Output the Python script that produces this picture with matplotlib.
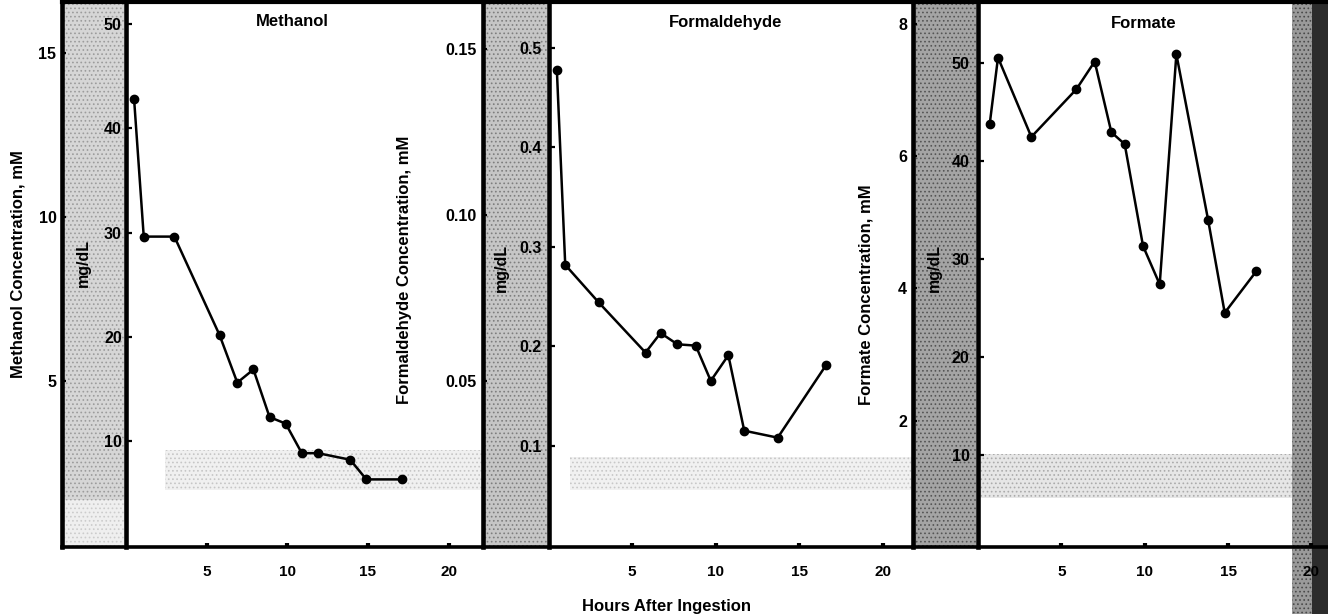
import matplotlib.pyplot as plt
from matplotlib.patches import Rectangle

plt.rcParams['font.family'] = ['Liberation Sans', 'DejaVu Sans']
plt.rcParams['font.weight'] = 'bold'
plt.rcParams['hatch.linewidth'] = 0.7

W, H = 1328, 614

# values (hours, mM)
methanol_hours = [0.5, 1.1, 3.0, 5.8, 6.9, 7.9, 8.9, 9.9, 10.9, 11.9, 13.9, 14.9, 17.1]
methanol_mM = [13.6, 9.4, 9.4, 6.4, 4.95, 5.35, 3.9, 3.7, 2.8, 2.8, 2.6, 2.0, 2.0]

formaldehyde_hours = [0.5, 1.0, 3.0, 5.8, 6.7, 7.7, 8.8, 9.7, 10.75, 11.7, 13.7, 16.6]
formaldehyde_mM = [0.1435, 0.0849, 0.0736, 0.0585, 0.0644, 0.0610, 0.0606, 0.0500,
                   0.0577, 0.0350, 0.0329, 0.0548]

formate_hours = [0.7, 1.2, 3.2, 5.9, 7.0, 8.0, 8.8, 9.9, 10.9, 11.9, 13.8, 14.8, 16.7]
formate_mM = [6.48, 7.49, 6.29, 7.01, 7.43, 6.36, 6.18, 4.64, 4.06, 7.54, 5.04, 3.63, 4.26]

hour_ticks = [5, 10, 15, 20]

methanol_mM_ticks = [5, 10, 15]
methanol_mM_labels = ['5', '10', '15']
methanol_mgdl_ticks = [10, 20, 30, 40, 50]
methanol_mgdl_labels = ['10', '20', '30', '40', '50']

formaldehyde_mM_ticks = [0.05, 0.10, 0.15]
formaldehyde_mM_labels = ['0.05', '0.10', '0.15']
formaldehyde_mgdl_ticks = [0.1, 0.2, 0.3, 0.4, 0.5]
formaldehyde_mgdl_labels = ['0.1', '0.2', '0.3', '0.4', '0.5']

formate_mM_ticks = [2, 4, 6, 8]
formate_mM_labels = ['2', '4', '6', '8']
formate_mgdl_ticks = [10, 20, 30, 40, 50]
formate_mgdl_labels = ['10', '20', '30', '40', '50']

titles = ['Methanol', 'Formaldehyde', 'Formate']
ylabels = ['Methanol Concentration, mM', 'Formaldehyde Concentration, mM',
           'Formate Concentration, mM']


def fx(x):
    return x / W


def fy(y):
    return 1 - y / H


fig = plt.figure(figsize=(W / 100, H / 100), dpi=100)

# scanned background: stippled strips, smudges and the dark right edge (pixel boxes)
def shade(x1, y1, x2, y2, face, dots=None):
    r = Rectangle((fx(x1), fy(y2)), fx(x2) - fx(x1), fy(y1) - fy(y2),
                  transform=fig.transFigure, facecolor=face, linewidth=0,
                  edgecolor=dots if dots else face, hatch='....' if dots else None,
                  zorder=-5)
    fig.add_artist(r)

shade(64, 3, 124, 500, '#d6d6d6', '#9c9c9c')
shade(64, 500, 124, 546, '#efefef', '#cccccc')
shade(485, 3, 547, 546, '#c6c6c6', '#7e7e7e')
shade(915, 3, 976, 546, '#a4a4a4', '#555555')
shade(165, 450, 482, 490, '#f0f0f0', '#c6c6c6')
shade(570, 457, 912, 490, '#f1f1f1', '#c8c8c8')
shade(980, 454, 1292, 498, '#e6e6e6', '#ababab')
shade(1292, 0, 1312, 614, '#9a9a9a', '#4a4a4a')
shade(1312, 0, 1328, 614, '#2c2c2c')

panels = [
    dict(left=62, right=482.5, x0=126, pph=16.13, ylim=(-0.06, 16.55), ylim2=(-0.14, 52.1),
         hours=methanol_hours, vals=methanol_mM,
         yt=methanol_mM_ticks, ytl=methanol_mM_labels,
         y2t=methanol_mgdl_ticks, y2tl=methanol_mgdl_labels, pad2=3),
    dict(left=482.5, right=912.5, x0=548.5, pph=16.73, ylim=(0.0, 0.164), ylim2=(-0.0014, 0.5457),
         hours=formaldehyde_hours, vals=formaldehyde_mM,
         yt=formaldehyde_mM_ticks, ytl=formaldehyde_mM_labels,
         y2t=formaldehyde_mgdl_ticks, y2tl=formaldehyde_mgdl_labels, pad2=5),
    dict(left=912.5, right=1328, x0=978, pph=16.67, ylim=(0.088, 8.33), ylim2=(0.57, 56.2),
         hours=formate_hours, vals=formate_mM,
         yt=formate_mM_ticks, ytl=formate_mM_labels,
         y2t=formate_mgdl_ticks, y2tl=formate_mgdl_labels, pad2=6),
]

top, bottom = 2, 547

for p in panels:
    ax = fig.add_axes([fx(p['left']), fy(bottom), fx(p['right']) - fx(p['left']),
                       fy(top) - fy(bottom)])
    ax.patch.set_visible(False)
    ax.set_xlim((p['left'] - p['x0']) / p['pph'], (p['right'] - p['x0']) / p['pph'])
    ax.set_ylim(p['ylim'])

    ax.plot(p['hours'], p['vals'], '-o', color='black', lw=1.8, ms=6, zorder=5,
            clip_on=False)

    ax.spines['right'].set_visible(False)
    ax.spines['left'].set_linewidth(3.3)
    ax.spines['top'].set_linewidth(3.0)
    ax.spines['bottom'].set_linewidth(2.6)

    ax.set_yticks(p['yt'])
    ax.set_yticklabels(p['ytl'])
    ax.tick_params(axis='y', direction='in', length=3, width=1.6, pad=4, labelsize=11.5)
    ax.set_xticks(hour_ticks)
    ax.set_xticklabels([str(h) for h in hour_ticks])
    ax.tick_params(axis='x', direction='in', length=3, width=3, pad=13, labelsize=11)

    # mg/dL scale on the inner axis at hour 0
    ax2 = ax.twinx()
    ax2.set_ylim(p['ylim2'])
    ax2.spines['left'].set_position(('data', 0))
    ax2.spines['left'].set_visible(True)
    ax2.spines['left'].set_linewidth(3.3)
    for s in ['right', 'top', 'bottom']:
        ax2.spines[s].set_visible(False)
    ax2.yaxis.tick_left()
    ax2.set_yticks(p['y2t'])
    ax2.set_yticklabels(p['y2tl'])
    ax2.tick_params(axis='y', direction='in', length=4, width=1.6, pad=p['pad2'],
                    labelsize=11.5)

# panel titles and axis labels
fig.text(fx(292), fy(21), titles[0], ha='center', va='center', fontsize=12, weight='bold')
fig.text(fx(726), fy(23), titles[1], ha='center', va='center', fontsize=12, weight='bold')
fig.text(fx(1144), fy(24), titles[2], ha='center', va='center', fontsize=12, weight='bold')

fig.text(fx(18), fy(264), ylabels[0], rotation=90, ha='center', va='center', fontsize=12)
fig.text(fx(405), fy(270), ylabels[1], rotation=90, ha='center', va='center', fontsize=12)
fig.text(fx(866), fy(295), ylabels[2], rotation=90, ha='center', va='center', fontsize=12)

for x, y in [(83, 263), (501, 268), (934, 268)]:
    fig.text(fx(x), fy(y), 'mg/dL', rotation=90, ha='center', va='center', fontsize=11.5)

fig.text(fx(667), fy(606), 'Hours After Ingestion', ha='center', va='center', fontsize=12)

fig.savefig('out.png', dpi=100)
